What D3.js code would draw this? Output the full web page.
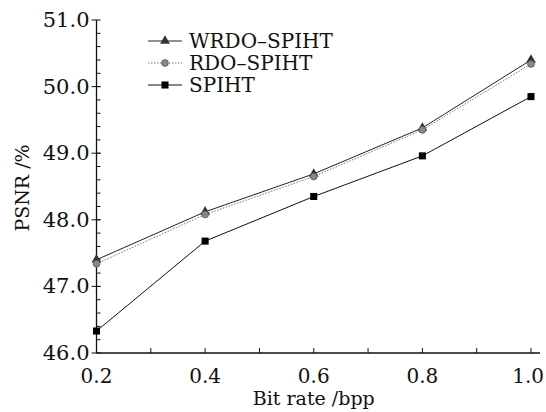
<!DOCTYPE html>
<html>
<head>
<meta charset="utf-8">
<title>psnr</title>
<script src="https://cdn.jsdelivr.net/npm/d3@7/dist/d3.min.js"></script>
<style>
body { margin: 0; background: #fff; }
svg text { font-family: "DejaVu Serif", "Liberation Serif", serif; fill: #111; }
</style>
</head>
<body>
<svg id="chart" width="546" height="412"></svg>
<script>
// values
var bitRates = [0.2, 0.4, 0.6, 0.8, 1.0];
var wrdo  = [47.40, 48.12, 48.69, 49.38, 50.40];
var rdo   = [47.34, 48.08, 48.65, 49.35, 50.34];
var spiht = [46.33, 47.68, 48.35, 48.96, 49.85];
var seriesNames = ["WRDO–SPIHT", "RDO–SPIHT", "SPIHT"];
var yTickLabels = [46, 47, 48, 49, 50, 51];
var xTickLabels = [0.2, 0.4, 0.6, 0.8, 1.0];

var svg = d3.select("#chart");
var m = {top: 20, right: 15, bottom: 59, left: 96.5};
var W = 546, H = 412;

var x = d3.scaleLinear().domain([0.2, 1.0]).range([m.left, W - m.right]);
var y = d3.scaleLinear().domain([46, 51]).range([H - m.bottom, m.top]);

// x axis
var gx = svg.append("g").attr("transform", "translate(0," + (H - m.bottom) + ")");
gx.append("line").attr("x1", x(0.2)).attr("x2", x(1.0) + 9).attr("stroke", "#111").attr("stroke-width", 1.3);
gx.selectAll("line.t").data(d3.range(0.2, 1.001, 0.1)).enter().append("line")
    .attr("class", "t")
    .attr("x1", function(d){ return x(d); }).attr("x2", function(d){ return x(d); })
    .attr("y1", 0).attr("y2", -5).attr("stroke", "#111");
gx.selectAll("text").data(xTickLabels).enter().append("text")
    .attr("x", function(d){ return x(d); }).attr("y", 30)
    .attr("text-anchor", "middle").attr("font-size", "20px")
    .text(function(d){ return d.toFixed(1); })
    .each(function(d) {
        // keep the last label inside the window
        var half = this.getComputedTextLength() / 2;
        var cx = Math.min(x(d), W - 2 - half);
        d3.select(this).attr("x", cx);
    });

// y axis
var gy = svg.append("g").attr("transform", "translate(" + m.left + ",0)");
gy.append("line").attr("y1", y(46)).attr("y2", y(51)).attr("stroke", "#111").attr("stroke-width", 1.3);
gy.selectAll("line.minor").data(d3.range(46.2, 51, 0.2)).enter().append("line")
    .attr("class", "minor")
    .attr("y1", function(d){ return y(d); }).attr("y2", function(d){ return y(d); })
    .attr("x1", 0).attr("x2", 4).attr("stroke", "#111");
gy.selectAll("line.major").data(yTickLabels).enter().append("line")
    .attr("class", "major")
    .attr("y1", function(d){ return y(d); }).attr("y2", function(d){ return y(d); })
    .attr("x1", -5).attr("x2", 4).attr("stroke", "#111");
gy.selectAll("text").data(yTickLabels).enter().append("text")
    .attr("x", -7).attr("y", function(d){ return y(d) + 7; })
    .attr("text-anchor", "end").attr("font-size", "21px")
    .text(function(d){ return d.toFixed(1); });

// axis titles
svg.append("text").attr("x", (x(0.2) + x(1.0)) / 2).attr("y", 405)
    .attr("text-anchor", "middle").attr("font-size", "19px").text("Bit rate /bpp");
svg.append("text").attr("transform", "translate(29,188) rotate(-90)")
    .attr("text-anchor", "middle").attr("font-size", "19px").text("PSNR /%");

// series
var series = [
    {name: seriesNames[0], vals: wrdo,  stroke: "#222", dash: null,  sym: d3.symbolTriangle, fill: "#333", size: 42},
    {name: seriesNames[1], vals: rdo,   stroke: "#777", dash: "1.5,1.5", sym: d3.symbolCircle, fill: "#888", size: 36},
    {name: seriesNames[2], vals: spiht, stroke: "#111", dash: null,  sym: d3.symbolSquare, fill: "#000", size: 50}
];

var line = d3.line()
    .x(function(d, i){ return x(bitRates[i]); })
    .y(function(d){ return y(d); });

series.forEach(function(s) {
    svg.append("path").datum(s.vals)
        .attr("fill", "none").attr("stroke", s.stroke).attr("stroke-width", 1)
        .attr("stroke-dasharray", s.dash)
        .attr("d", line);
});
series.forEach(function(s) {
    svg.append("g").selectAll("path").data(s.vals).enter().append("path")
        .attr("transform", function(d, i){ return "translate(" + x(bitRates[i]) + "," + y(d) + ")"; })
        .attr("d", d3.symbol().type(s.sym).size(s.size))
        .attr("fill", s.fill).attr("stroke", s.fill === "#888" ? "#555" : "none").attr("stroke-width", 0.8);
});

// legend
var lg = svg.append("g").attr("transform", "translate(148,41)");
series.forEach(function(s, i) {
    var row = lg.append("g").attr("transform", "translate(0," + (i * 22) + ")");
    row.append("line").attr("x1", 0).attr("x2", 34).attr("stroke", s.stroke)
        .attr("stroke-dasharray", s.dash);
    row.append("path").attr("transform", "translate(17,0)")
        .attr("d", d3.symbol().type(s.sym).size(s.size))
        .attr("fill", s.fill).attr("stroke", s.fill === "#888" ? "#555" : "none").attr("stroke-width", 0.8);
    row.append("text").attr("x", 41).attr("y", 7).attr("font-size", "20px").text(s.name);
});
</script>
</body>
</html>
